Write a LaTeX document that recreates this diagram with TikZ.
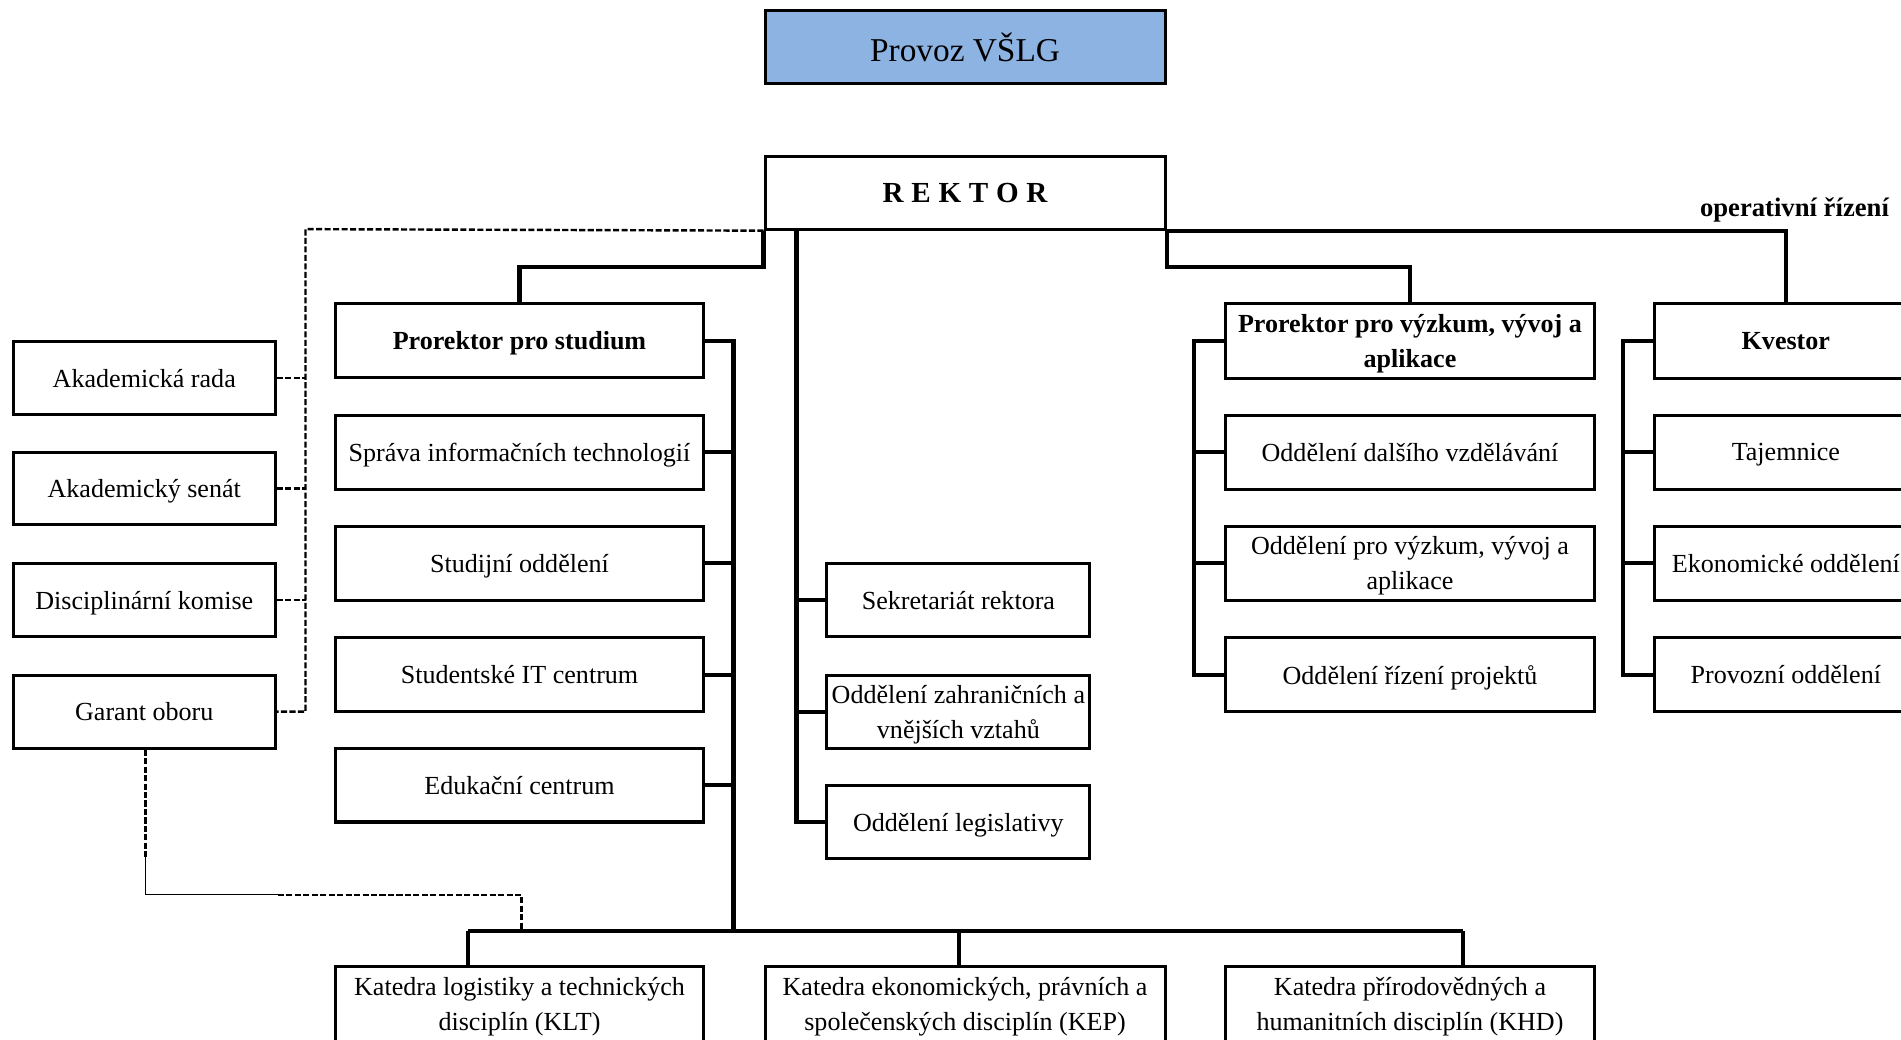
\documentclass[tikz,border=0pt]{standalone}
\usepackage{fontspec}
\setmainfont{Liberation Serif}
\usetikzlibrary{calc}
\definecolor{provozblue}{HTML}{8DB3E2}
\begin{document}
\begin{tikzpicture}[x=1pt,y=-1pt,
  box/.style={draw=black,line width=2.5pt,fill=white,inner sep=0pt,align=center,text depth=0pt,
    font=\fontsize{21.5}{28.5}\selectfont},
  bbox/.style={box,font=\fontsize{21.5}{28.5}\selectfont\bfseries},
  thk/.style={line width=3.5pt},
  dsh/.style={line width=2pt,dash pattern=on 5pt off 2pt},
  thn/.style={line width=1pt}]
\useasboundingbox (0,0) rectangle (1568,857);
\clip (0,0) rectangle (1568,857);
\fill[white] (0,0) rectangle (1568,857);

% top
\node[box,fill=provozblue,minimum width=330,minimum height=60,font=\fontsize{27.5}{32}\selectfont] (prv) at (796,39) {Provoz VŠLG};
\node[box,minimum width=330,minimum height=60,font=\fontsize{24}{28}\selectfont\bfseries] (rek) at (796,159)
  {R\hspace{6.4pt}E\hspace{6.4pt}K\hspace{6.4pt}T\hspace{6.4pt}O\hspace{6.4pt}R};
\node[anchor=west,inner sep=0pt,font=\fontsize{22}{28.5}\selectfont\bfseries] (op) at (1402,173) {operativní řízení};

% left column
\node[box,minimum width=216,minimum height=60] (akr) at (119,312) {Akademická rada};
\node[box,minimum width=216,minimum height=60] (aks) at (119,403) {Akademický senát};
\node[box,minimum width=216,minimum height=60] (dk) at (119,495) {Disciplinární komise};
\node[box,minimum width=216,minimum height=60] (gar) at (119,587) {Garant oboru};

% second column
\node[bbox,minimum width=303,minimum height=61] (pps) at (428.5,281) {Prorektor pro studium};
\node[box,minimum width=303,minimum height=61] (sit) at (428.5,373) {Správa informačních technologií};
\node[box,minimum width=303,minimum height=61] (sto) at (428.5,464.5) {Studijní oddělení};
\node[box,minimum width=303,minimum height=61] (sitc) at (428.5,556.5) {Studentské IT centrum};
\node[box,minimum width=303,minimum height=61] (edu) at (428.5,647.5) {Edukační centrum};

% middle column
\node[box,minimum width=217,minimum height=60] (sek) at (790.5,495) {Sekretariát rektora};
\node[box,minimum width=217,minimum height=60] (ozv) at (790.5,587) {Oddělení zahraničních a\\vnějších vztahů};
\node[box,minimum width=217,minimum height=60] (leg) at (790.5,678) {Oddělení legislativy};

% right column
\node[bbox,minimum width=304,minimum height=62] (pvv) at (1163,281) {Prorektor pro výzkum, vývoj a\\aplikace};
\node[box,minimum width=304,minimum height=61] (odv) at (1163,373) {Oddělení dalšího vzdělávání};
\node[box,minimum width=304,minimum height=61] (opv) at (1163,464.5) {Oddělení pro výzkum, vývoj a\\aplikace};
\node[box,minimum width=304,minimum height=61] (orp) at (1163,556.5) {Oddělení řízení projektů};

% kvestor column
\node[bbox,minimum width=216,minimum height=62] (kve) at (1473,281) {Kvestor};
\node[box,minimum width=216,minimum height=61] (taj) at (1473,373) {Tajemnice};
\node[box,minimum width=216,minimum height=61] (eko) at (1473,464.5) {Ekonomické oddělení};
\node[box,minimum width=216,minimum height=61] (pro) at (1473,556.5) {Provozní oddělení};

% bottom
\node[box,minimum width=303,minimum height=62] (klt) at (428.5,828) {Katedra logistiky a technických\\disciplín (KLT)};
\node[box,minimum width=330,minimum height=62] (kep) at (796,828) {Katedra ekonomických, právních a\\společenských disciplín (KEP)};
\node[box,minimum width=304,minimum height=62] (khd) at (1163,828) {Katedra přírodovědných a\\humanitních disciplín (KHD)};

% coordinates
\coordinate (dtop) at (252,189);
\coordinate (rv) at (657,189);
\coordinate (bus) at (605,768);
\coordinate (b1) at (386,768);
\coordinate (b2) at (791,768);
\coordinate (b3) at (1207,768);
\coordinate (g1) at (120,707);
\coordinate (g2) at (229,738);
\coordinate (g3) at (430,738);
\coordinate (g4) at (430,768);

% dashed advisory lines
\draw[dsh] (rek.south west) -- (dtop) |- (gar.east);
\foreach \n in {akr,aks,dk} \draw[dsh] (\n.east) -- (\n.east -| dtop);

% rektor connections
\draw[thk] (rek.south west) -- ++(0,30) -| (pps.north);
\draw[thk] (rek.south east) -- ++(0,30) -| (pvv.north);
\draw[thk] (rek.south east) -| (kve.north);
\draw[thk] (rv) |- (leg.west);
\foreach \n in {sek,ozv} \draw[thk] (\n.west) -- (\n.west -| rv);

% prorektor pro studium bus
\draw[thk] (pps.east) -- (pps.east -| bus) -- (bus);
\foreach \n in {sit,sto,sitc,edu} \draw[thk] (\n.east) -- (\n.east -| bus);
\draw[thk] (b1) -- (b3);
\draw[thk] (b1) -- (b1 |- klt.north);
\draw[thk] (b2) -- (b2 |- kep.north);
\draw[thk] (b3) -- (b3 |- khd.north);

% right buses
\draw[thk] (pvv.west) -- ++(-25,0) |- (orp.west);
\foreach \n in {odv,opv} \draw[thk] (\n.west) -- ++(-25,0);
\draw[thk] (kve.west) -- ++(-25,0) |- (pro.west);
\foreach \n in {taj,eko} \draw[thk] (\n.west) -- ++(-25,0);

% garant to KLT
\draw[dsh] (gar.south -| g1) -- (g1);
\draw[thn] (g1) |- (g2);
\draw[dsh] (g2) -- (g3) -- (g4);

% redraw REKTOR box on top of junctions
\node[box,minimum width=330,minimum height=60,font=\fontsize{24}{28}\selectfont\bfseries] at (rek) {R\hspace{6.4pt}E\hspace{6.4pt}K\hspace{6.4pt}T\hspace{6.4pt}O\hspace{6.4pt}R};
\end{tikzpicture}
\end{document}
